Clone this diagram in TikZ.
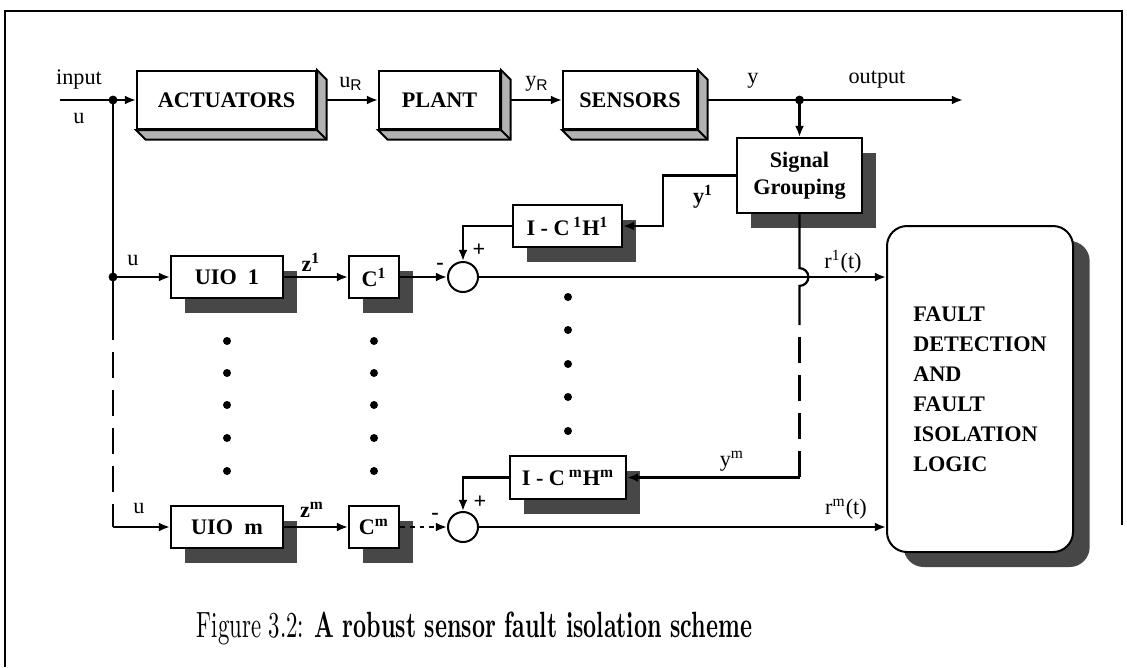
\documentclass[tikz,border=0pt]{standalone}
\usepackage{fontspec}
\newfontfamily\timesfont{Liberation Serif}
\newfontfamily\arialfont{Liberation Sans}
\usetikzlibrary{arrows.meta,shadows}

% 立体方框的侧面与底面
\newcommand\extrude[1]{%
  \filldraw[fill=black!30, line width=0.9pt] (#1.north east) -- ++(4.3pt,-4.3pt)
    |- ([shift={(4.3pt,-4.3pt)}]#1.south west) -- (#1.south west) -- (#1.south east) -- cycle;
  \draw[line width=0.9pt] (#1.south east) -- ++(4.3pt,-4.3pt);}

\begin{document}
\begin{tikzpicture}[x=0.45pt, y=-0.45pt, >={Latex[length=5pt,width=4pt]}, line width=1pt,
    block/.style={draw, fill=white, line width=0.9pt, inner sep=0pt, font=\timesfont\bfseries},
    shadowed/.style={block, drop shadow={shadow xshift=6.3pt, shadow yshift=-6.75pt, fill=black!72, opacity=1}},
    sumnode/.style={draw, circle, minimum size=13.5pt, inner sep=0pt, line width=0.9pt},
    lbl/.style={font=\timesfont, inner sep=0pt},
    longdash/.style={dash pattern=on 11.7pt off 5.4pt, dash phase=11.7pt}]
    \useasboundingbox (0,0) rectangle (1127,667);
    % 外框
    \draw[line width=0.8pt] (5,667) -- (5,11) -- (1122,11) -- (1122,525);

    % 上排：执行器、对象、传感器
    \node[block, minimum width=80.55pt, minimum height=26.1pt] (act) at (226.5,100) {ACTUATORS};
    \node[block, minimum width=54.45pt, minimum height=26.1pt] (plant) at (439.5,100) {PLANT};
    \node[block, minimum width=60.3pt, minimum height=26.1pt] (sens) at (630,100) {SENSORS};
    \extrude{act}
    \extrude{plant}
    \extrude{sens}

    % 信号分组
    \node[shadowed, minimum width=56.25pt, minimum height=33.75pt, align=center]
         (sg) at (799.5,175.5) {Signal\\Grouping};
    % I - C H 方框
    \node[shadowed, minimum width=49.05pt, minimum height=18.9pt]
         (ich1) at (567.5,226) {I - C\,\textsuperscript{1}H\textsuperscript{1}};
    \node[shadowed, minimum width=52.2pt, minimum height=19.35pt]
         (ichm) at (568,477.5) {I - C\,\textsuperscript{m}H\textsuperscript{m}};
    % UIO 与 C 方框
    \node[shadowed, minimum width=50.4pt, minimum height=18.9pt] (uio1) at (227,277) {UIO~~1};
    \node[shadowed, minimum width=22.5pt, minimum height=18.9pt] (c1) at (374,277) {C\textsuperscript{1}};
    \node[shadowed, minimum width=50.4pt, minimum height=18.9pt] (uiom) at (227,527) {UIO~~m};
    \node[shadowed, minimum width=22.5pt, minimum height=18.9pt] (cm) at (374,527) {C\textsuperscript{m}};
    % 求和点
    \node[sumnode] (s1) at (463,277) {};
    \node[sumnode] (sm) at (463,527) {};
    % 故障检测与隔离逻辑
    \node[block, rounded corners=9pt, minimum width=83.7pt, minimum height=146.7pt, align=left,
          font=\timesfont\bfseries\fontsize{10pt}{13.5pt}\selectfont,
          drop shadow={shadow xshift=7.5pt, shadow yshift=-6.75pt, fill=black!72, opacity=1}]
         (fdi) at (980,389) {FAULT\\DETECTION\\AND\\FAULT\\ISOLATION\\LOGIC};

    % 分支点与辅助点
    \coordinate (in) at (60,100);
    \coordinate (j1) at (113,100);
    \coordinate (j3) at (113,277);
    \coordinate (dsh1) at (113,340);
    \coordinate (j2) at (799.5,100);
    \coordinate (out) at (963,100);
    \coordinate (k1) at (663,175.5);
    \coordinate (jmp) at (799.5,277);
    \coordinate (dsh2) at (799.5,325);

    % 上排连线
    \draw (in) -- (j1);
    \draw[->] (j1) -- (act.west);
    \draw[->] ([xshift=4.3pt]act.east) -- (plant.west);
    \draw[->] ([xshift=4.3pt]plant.east) -- (sens.west);
    \draw[->] ([xshift=4.3pt]sens.east) -- (out);
    \draw[->] (j2) -- (sg.north);

    % 输入 u 到各 UIO
    \draw (j1) -- (j3) -- (dsh1);
    \draw[longdash] (dsh1) -- (dsh1 |- uiom.west);
    \draw[->] (dsh1 |- uiom.west) -- (uiom.west);
    \draw[->] (j3) -- (uio1.west);

    % 第 1 路
    \draw[->] (uio1.east) -- (c1.west);
    \draw[->] (c1.east) -- (s1.west);
    \draw[->] (sg.west) -- (k1) |- (ich1.east);
    \draw[->] (ich1.west) -| (s1.north);
    \draw[->] (s1.east) -- (s1.east -| fdi.west);

    % 第 m 路
    \draw[->] (uiom.east) -- (cm.west);
    \draw[->, dash pattern=on 2.2pt off 2.2pt] (cm.east) -- (sm.west);
    \draw[->] (ichm.west) -| (sm.north);
    \draw[->] (sm.east) -- (sm.east -| fdi.west);
    \draw (sg.south) -- ([yshift=4pt]jmp) arc[start angle=90, end angle=-90, radius=4pt] -- (dsh2);
    \draw[longdash] (dsh2) -- (dsh2 |- ichm.east);
    \draw[->] (dsh2 |- ichm.east) -- (ichm.east);

    % 分支点实心圆
    \fill (j1) circle (2pt);
    \fill (j3) circle (2pt);
    \fill (j2) circle (2pt);

    % 省略点
    \foreach \yy in {341,373,405,438,471} {
      \fill (227,\yy) circle (1.8pt);
      \fill (374,\yy) circle (1.8pt);
    }
    \foreach \yy in {297,330,364,397,431}
      \fill (568,\yy) circle (1.8pt);

    % 标注
    \node[lbl] (lin) at (79,80) {input};
    \node[lbl] (lu0) at (79,118) {u};
    \node[lbl] (lur) at (351,84) {u\textsubscript{\arialfont R}};
    \node[lbl] (lyr) at (537,84) {y\textsubscript{\arialfont R}};
    \node[lbl] (ly) at (753,81) {y};
    \node[lbl] (lout) at (877,80) {output};
    \node[lbl] (ly1) at (703,197) {\bfseries y\textsuperscript{1}};
    \node[lbl] (lu1) at (133,260) {u};
    \node[lbl] (lz1) at (311,262) {\bfseries z\textsuperscript{1}};
    \node[lbl] (lm1) at (440,266) {\bfseries -};
    \node[lbl] (lp1) at (479,250) {\bfseries +};
    \node[lbl] (lr1) at (843,262) {r\textsuperscript{1}(t)};
    \node[lbl] (lym) at (732,461) {y\textsuperscript{m}};
    \node[lbl] (lum) at (139,508) {u};
    \node[lbl] (lzm) at (312,510) {\bfseries z\textsuperscript{m}};
    \node[lbl] (lmm) at (435,516) {\bfseries -};
    \node[lbl] (lpm) at (480,502) {\bfseries +};
    \node[lbl] (lrm) at (846,509) {r\textsuperscript{m}(t)};

    % 图题
    \node[anchor=base, inner sep=0pt] (cap) at (474.5,637)
         {\resizebox{249.75pt}{11.5pt}{Figure 3.2: \textbf{A robust sensor fault isolation scheme}}};
  \end{tikzpicture}
\end{document}
